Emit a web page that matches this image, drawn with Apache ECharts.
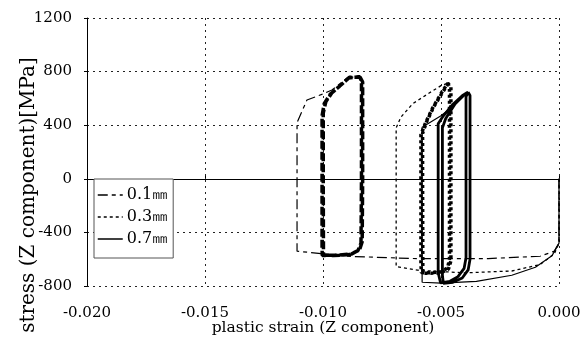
<!DOCTYPE html>
<html>
<head>
<meta charset="utf-8">
<script src="https://cdn.jsdelivr.net/npm/echarts@6/dist/echarts.min.js"></script>
<style>
html,body{margin:0;padding:0;background:#fff;}
#chart{width:581px;height:342px;}
</style>
</head>
<body>
<div id="chart"></div>
<script>
// ---- data (plastic strain, stress MPa) ----
const seriesNames = ['0.1㎜', '0.3㎜', '0.7㎜'];
const xTicks = [-0.020, -0.015, -0.010, -0.005, 0.000];
const yTicks = [-800, -400, 0, 400, 800, 1200];

// 0.1 mm : first path (compression, then reversal)
const path01 = [
  [0,0],[0,-480],[-0.0002,-540],[-0.0008,-578],[-0.003,-595],[-0.006,-596],
  [-0.009,-578],[-0.0111,-540],[-0.0111,0],[-0.0111,420],[-0.01085,520],
  [-0.01068,588],[-0.0100,633],[-0.00962,663],[-0.00894,757],[-0.00843,760]
];
// 0.1 mm : repeated loops
const loop01 = [
  [-0.00843,760],[-0.00832,722],[-0.00832,0],[-0.00834,-470],[-0.00845,-530],
  [-0.00880,-562],[-0.00950,-570],[-0.01003,-572],[-0.01004,-520],[-0.01004,0],
  [-0.01004,470],[-0.00995,560],[-0.00970,630],[-0.00930,690],[-0.00892,752],
  [-0.00845,762],[-0.00837,730],[-0.00837,0],[-0.00839,-480],[-0.00852,-536],
  [-0.00885,-565],[-0.00955,-573],[-0.00998,-568],[-0.00999,0],[-0.00999,490],
  [-0.00988,575],[-0.00963,640],[-0.00924,700],[-0.00888,757],[-0.00842,760]
];

// 0.3 mm : first path
const path03 = [
  [0,0],[0,-480],[-0.0002,-560],[-0.0008,-640],[-0.002,-688],[-0.004,-702],
  [-0.006,-682],[-0.0069,-655],[-0.0069,0],[-0.0069,380],[-0.0067,460],
  [-0.0062,560],[-0.0055,640],[-0.0050,695],[-0.0047,715]
];
// 0.3 mm : repeated loops
const loop03 = [
  [-0.00470,715],[-0.00464,670],[-0.00464,0],[-0.00464,-600],[-0.00472,-665],
  [-0.00500,-695],[-0.00550,-702],[-0.00583,-700],[-0.00585,-640],[-0.00585,0],
  [-0.00585,330],[-0.00565,420],[-0.00535,530],[-0.00495,650],[-0.00472,712],
  [-0.00458,690],[-0.00458,0],[-0.00458,-612],[-0.00468,-672],[-0.00500,-702],
  [-0.00577,-706],[-0.00578,0],[-0.00578,340],[-0.00560,430],[-0.00530,540],
  [-0.00490,655],[-0.00468,715]
];

// 0.7 mm : first path
const path07 = [
  [0,0],[0,-480],[-0.0003,-575],[-0.001,-660],[-0.002,-720],[-0.0035,-765],
  [-0.005,-778],[-0.0058,-772],[-0.0058,-700],[-0.0058,0],[-0.0058,385],
  [-0.0050,470],[-0.0045,540],[-0.00385,647]
];
// 0.7 mm : repeated loops
const loop07 = [
  [-0.00385,647],[-0.00377,622],[-0.00377,0],[-0.00377,-600],[-0.00385,-680],
  [-0.00410,-740],[-0.00450,-772],[-0.00490,-780],[-0.00494,-720],[-0.00494,0],
  [-0.00494,380],[-0.00480,450],[-0.00440,560],[-0.00400,630],[-0.00385,647],
  [-0.00394,612],[-0.00394,0],[-0.00394,-590],[-0.00402,-668],[-0.00428,-730],
  [-0.00462,-765],[-0.00502,-776],[-0.00512,-700],[-0.00512,0],[-0.00512,410],
  [-0.00490,470],[-0.00450,555],[-0.00410,620],[-0.00388,645]
];

const FONT = 'DejaVu Serif';
const chart = echarts.init(document.getElementById('chart'), null, {renderer: 'canvas'});

function mk(name, data, width, type) {
  return {
    name: name, type: 'line', data: data, xAxisIndex: 0, yAxisIndex: 0,
    symbol: 'none', smooth: false, animation: false,
    itemStyle: {color: '#000'},
    lineStyle: {color: '#000', width: width, type: type},
    emphasis: {disabled: true}
  };
}

chart.setOption({
  animation: false,
  backgroundColor: '#fff',
  color: ['#000', '#000', '#000'],
  grid: {left: 87, right: 22, top: 18, bottom: 56, containLabel: false, outerBoundsMode: 'none'},
  legend: {
    data: seriesNames,
    orient: 'vertical',
    left: 94, top: 179,
    padding: [8, 5, 11, 3],
    itemGap: 6,
    itemWidth: 25, itemHeight: 16,
    backgroundColor: '#fff',
    borderColor: '#555', borderWidth: 1,
    borderRadius: 0,
    itemStyle: {color: 'rgba(0,0,0,0)', borderColor: 'rgba(0,0,0,0)', borderWidth: 0, opacity: 0},
    lineStyle: {color: '#000', width: 1.5},
    textStyle: {fontFamily: FONT, fontSize: 16, color: '#000', padding: [0,0,0,-1]},
    selectedMode: false
  },
  xAxis: [{
    type: 'value', min: -0.020, max: 0, interval: 0.005,
    position: 'bottom',
    axisLine: {show: false, onZero: false},
    axisTick: {show: false},
    axisLabel: {
      fontFamily: FONT, fontSize: 15, color: '#000', margin: 20,
      formatter: v => v.toFixed(3)
    },
    splitLine: {show: true, lineStyle: {color: '#222', width: 1, type: [2, 4]}},
    name: 'plastic strain (Z component)',
    nameLocation: 'middle', nameGap: 34, nameMoveOverlap: false,
    nameTextStyle: {fontFamily: FONT, fontSize: 15.5, color: '#000'}
  }, {
    type: 'value', min: -0.020, max: 0, interval: 0.005,
    position: 'top',
    axisLine: {show: true, onZero: true, lineStyle: {color: '#000', width: 1}},
    axisTick: {show: true, length: 3, lineStyle: {color: '#000'}},
    axisLabel: {show: false},
    splitLine: {show: false}
  }],
  yAxis: {
    type: 'value', min: -800, max: 1200, interval: 400,
    axisLine: {show: true, onZero: false, lineStyle: {color: '#000', width: 1}},
    axisTick: {show: true, length: 3, lineStyle: {color: '#000'}},
    axisLabel: {fontFamily: FONT, fontSize: 15, color: '#000', margin: 15,
      formatter: v => String(v)},
    splitLine: {show: true, lineStyle: {color: '#222', width: 1, type: [2, 4]}},
    name: 'stress (Z component)[MPa]',
    nameLocation: 'middle', nameGap: 48, nameMoveOverlap: false,
    nameTextStyle: {fontFamily: FONT, fontSize: 20, color: '#000', padding: [0, 86, 0, 0]}
  },
  series: [
    mk(seriesNames[0], path01, 1.2, [10, 4, 4, 4]),
    mk(seriesNames[1], path03, 1.3, [3, 3]),
    mk(seriesNames[2], path07, 1.2, 'solid'),
    mk(seriesNames[0], loop01, 3.5, [8, 3]),
    mk(seriesNames[1], loop03, 3.5, [3, 3]),
    mk(seriesNames[2], loop07, 2.8, 'solid')
  ]
});
</script>
</body>
</html>
